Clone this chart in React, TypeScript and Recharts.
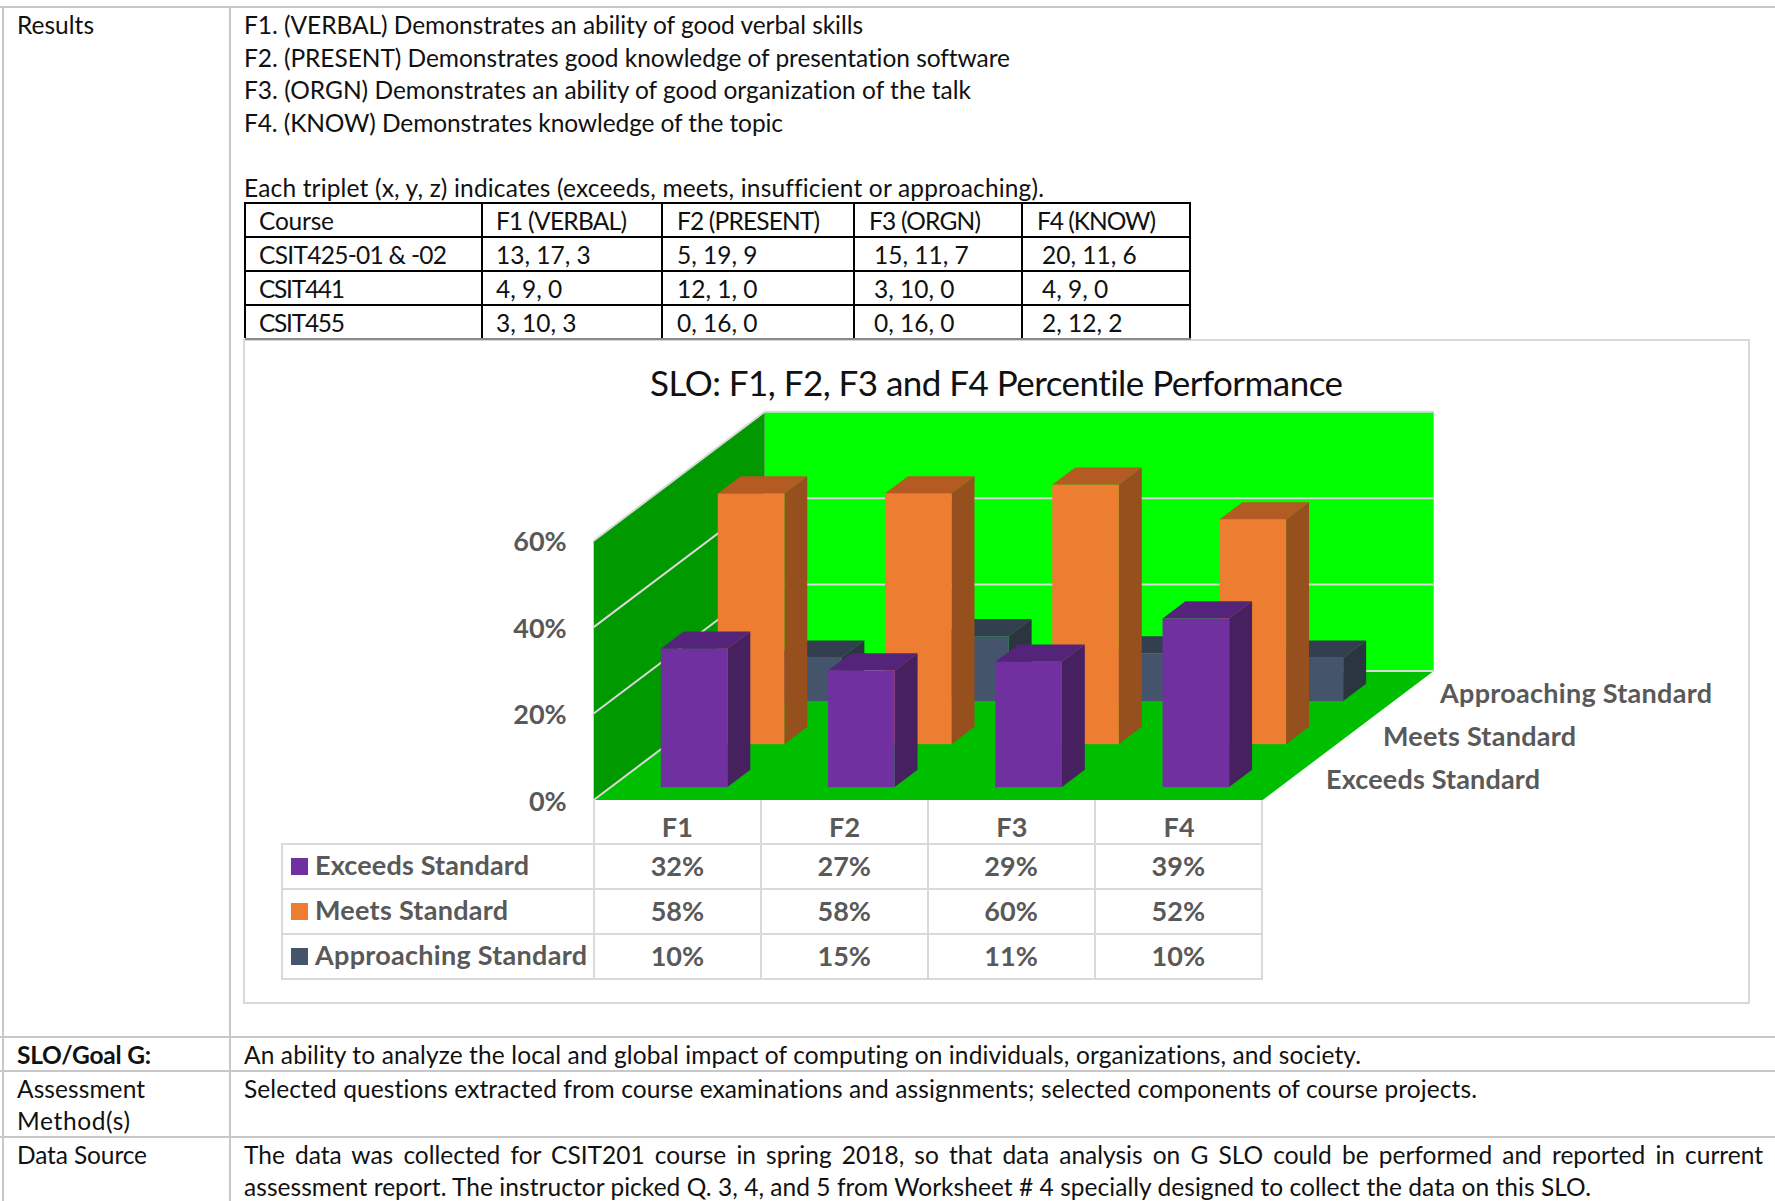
import React from "react";
import { BarChart, Bar, XAxis, YAxis, CartesianGrid } from "recharts";

const categories = ["F1", "F2", "F3", "F4"];
const exceeds = [32, 27, 29, 39];
const meets = [58, 58, 60, 52];
const approaching = [10, 15, 11, 10];
const yTicks = [0, 20, 40, 60];

const outcomeLines = [
  "F1. (VERBAL) Demonstrates an ability of good verbal skills",
  "F2. (PRESENT) Demonstrates good knowledge of presentation software",
  "F3. (ORGN) Demonstrates an ability of good organization of the talk",
  "F4. (KNOW) Demonstrates knowledge of the topic",
];
const outcomeWidths = [619, 766, 727, 539];
const courseHeader = ["Course", "F1 (VERBAL)", "F2 (PRESENT)", "F3 (ORGN)", "F4 (KNOW)"];
const courseHeaderWidths = [75, 131, 143, 112, 119];
const courseRows = [
  ["CSIT425-01 & -02", "13, 17, 3", "5, 19, 9", "15, 11, 7", "20, 11, 6"],
  ["CSIT441", "4, 9, 0", "12, 1, 0", "3, 10, 0", "4, 9, 0"],
  ["CSIT455", "3, 10, 3", "0, 16, 0", "0, 16, 0", "2, 12, 2"],
];
const courseNameWidths = [188, 86, 86];

const chartData = categories.map((name, i) => ({
  name,
  exceeds: exceeds[i],
  meets: meets[i],
  approaching: approaching[i],
}));

const series = [
  { key: "exceeds", label: "Exceeds Standard", values: exceeds, color: "#7030A0", top: "#54247A", side: "#47205F", depth: 0.1, labelX: 1326, labelY: 778, labelW: 214 },
  { key: "meets", label: "Meets Standard", values: meets, color: "#ED7D31", top: "#B35B22", side: "#95501D", depth: 0.433, labelX: 1383, labelY: 735, labelW: 193 },
  { key: "approaching", label: "Approaching Standard", values: approaching, color: "#44546A", top: "#333F4F", side: "#2A3541", depth: 0.767, labelX: 1440, labelY: 692, labelW: 272 },
];

// chart frame on the page and the front face of the plot box
const FRAME = { left: 244, top: 340, width: 1505, height: 663 };
const PLOT = { left: 593.7, right: 1262.7, top: 540.7, bottom: 800 };
const DEPTH_X = 171;
const DEPTH_Y = 129;
const BAR_DEPTH = 0.134;
const BAR_WIDTH = 66.6;
const GRID = "#D9D9D9";
const INK = "#595959";
const FONT = "Lato, sans-serif";

function Bar3D(props: any) {
  const { x, y, width, height, depth, color, top, side } = props;
  const fx = x + DEPTH_X * depth;
  const fy = y - DEPTH_Y * depth;
  const sx = DEPTH_X * BAR_DEPTH;
  const sy = DEPTH_Y * BAR_DEPTH;
  return (
    <g>
      <path d={`M${fx},${fy} l${sx},${-sy} h${width} l${-sx},${sy} z`} fill={top} />
      <path d={`M${fx + width},${fy} l${sx},${-sy} v${height} l${-sx},${sy} z`} fill={side} />
      <rect x={fx} y={fy} width={width} height={height} fill={color} />
    </g>
  );
}

// grid line wrapped around the left wall and the back wall
function WallLine(props: any) {
  const { x1, y1, x2 } = props;
  return (
    <path
      key={props.key}
      d={`M${x1},${y1} l${DEPTH_X},${-DEPTH_Y} L${x2 + DEPTH_X},${y1 - DEPTH_Y}`}
      fill="none"
      stroke={GRID}
      strokeWidth={2}
    />
  );
}

function Walls() {
  const { left, right, top, bottom } = PLOT;
  const l = left - FRAME.left;
  const r = right - FRAME.left;
  const t = top - FRAME.top;
  const b = bottom - FRAME.top;
  return (
    <svg width={FRAME.width} height={FRAME.height} style={{ position: "absolute", left: 0, top: 0 }}>
      <rect x={l + DEPTH_X} y={t - DEPTH_Y} width={r - l} height={b - t} fill="#00FF00" />
      <path d={`M${l},${t} L${l + DEPTH_X},${t - DEPTH_Y} V${b - DEPTH_Y} L${l},${b} z`} fill="#009900" />
      <path d={`M${l},${b} L${l + DEPTH_X},${b - DEPTH_Y} H${r + DEPTH_X} L${r},${b} z`} fill="#00BF00" />
    </svg>
  );
}

// single line of page text; w pins the run to a given width
function Txt({ x, y, size = 24.5, bold, color = "#111", w, children }: any) {
  return (
    <svg width={1} height={1} style={{ position: "absolute", left: x, top: y - 1, overflow: "visible" }}>
      <text
        x={0}
        y={0}
        dominantBaseline="central"
        textLength={w}
        lengthAdjust={w ? "spacing" : undefined}
        style={{ fontFamily: FONT, fontSize: size, fontWeight: bold ? 700 : 400, fill: color, fontVariantLigatures: "none", whiteSpace: "pre" }}
      >
        {children}
      </text>
    </svg>
  );
}

function Line({ x, y, w, h, color }: any) {
  return <div style={{ position: "absolute", left: x, top: y, width: w, height: h, background: color }} />;
}

const docLine = "#C8C8C8";
const courseX = [245, 482, 662, 854, 1022, 1190];
const courseY = [203, 237, 271, 305];
const courseTextX = [
  [259, 496, 677, 869, 1037],
  [259, 496, 677, 874, 1042],
  [259, 496, 677, 874, 1042],
  [259, 496, 677, 874, 1042],
];
const rowCentres = [221, 255, 289, 323];

function CourseTable() {
  const rows = [courseHeader, ...courseRows];
  return (
    <>
      {courseY.map((y) => (
        <Line key={y} x={245} y={y - 1} w={946} h={2} color="#000" />
      ))}
      {courseX.map((x) => (
        <Line key={x} x={x - 1} y={202} w={2} h={136} color="#000" />
      ))}
      {rows.map((row, r) =>
        row.map((cell, c) => {
          const w = r === 0 ? courseHeaderWidths[c] : c === 0 ? courseNameWidths[r - 1] : undefined;
          return (
            <Txt key={`${r}-${c}`} x={courseTextX[r][c]} y={rowCentres[r]} w={w}>
              {cell}
            </Txt>
          );
        }),
      )}
    </>
  );
}

const tableX = [593.8, 761, 927.5, 1094.7, 1262];
const tableY = [844, 889, 934, 979];

function DataTable() {
  return (
    <>
      {tableY.map((y) => (
        <Line key={y} x={281} y={y - 1} w={982} h={2} color={GRID} />
      ))}
      <Line x={281} y={844} w={2} h={135} color={GRID} />
      {tableX.map((x) => (
        <Line key={x} x={x - 1} y={800} w={2} h={179} color={GRID} />
      ))}
      {series.map((s, r) => (
        <React.Fragment key={s.key}>
          <Line x={291} y={tableY[r] + 14} w={17} h={17} color={s.color} />
          <Txt x={315} y={tableY[r] + 21} size={27} bold color={INK} w={s.labelW}>
            {s.label}
          </Txt>
          {s.values.map((v, c) => (
            <div
              key={c}
              style={{
                position: "absolute",
                left: tableX[c],
                width: tableX[c + 1] - tableX[c],
                top: tableY[r] + 21,
                transform: "translateY(-50%)",
                textAlign: "center",
                fontFamily: FONT,
                fontWeight: 700,
                fontSize: 27,
                color: INK,
                lineHeight: 1,
              }}
            >
              {v}%
            </div>
          ))}
        </React.Fragment>
      ))}
    </>
  );
}

function PerformanceChart() {
  const margin = {
    top: PLOT.top - FRAME.top,
    left: PLOT.left - FRAME.left - 80,
    right: FRAME.left + FRAME.width - PLOT.right,
    bottom: FRAME.top + FRAME.height - PLOT.bottom - 44,
  };
  const tick = { fontFamily: FONT, fontSize: 27, fontWeight: 700, fill: INK };
  // back row first so the front row paints over it
  const paintOrder = [...series].reverse();
  return (
    <div style={{ position: "absolute", left: FRAME.left, top: FRAME.top, width: FRAME.width, height: FRAME.height, background: "#fff", outline: `2px solid ${GRID}`, outlineOffset: -1 }}>
      <Walls />
      <div style={{ position: "absolute", left: 0, top: 0 }}>
        <BarChart width={FRAME.width} height={FRAME.height} data={chartData} margin={margin} barSize={BAR_WIDTH} barGap={-BAR_WIDTH}>
          <CartesianGrid vertical={false} horizontal={WallLine} />
          <XAxis dataKey="name" axisLine={false} tickLine={false} tickSize={0} tickMargin={18} height={44} tick={tick} interval={0} />
          <YAxis domain={[0, 60]} ticks={yTicks} width={80} axisLine={false} tickLine={false} tickSize={0} tickMargin={27} tick={{ ...tick, dy: 1 }} tickFormatter={(v) => `${v}%`} />
          {paintOrder.map((s) => (
            <Bar
              key={s.key}
              dataKey={s.key}
              isAnimationActive={false}
              shape={(p: any) => <Bar3D {...p} depth={s.depth} color={s.color} top={s.top} side={s.side} />}
            />
          ))}
        </BarChart>
      </div>
    </div>
  );
}

export default function App() {
  return (
    <div style={{ position: "absolute", left: 0, top: 0, width: 1775, height: 1201, overflow: "hidden", background: "#fff" }}>
      {/* outer document table */}
      <Line x={0} y={6} w={1775} h={2} color={docLine} />
      <Line x={2} y={6} w={2} h={1195} color={docLine} />
      <Line x={229} y={6} w={2} h={1195} color={docLine} />
      <Line x={0} y={1036} w={1775} h={2} color={docLine} />
      <Line x={0} y={1070} w={1775} h={2} color={docLine} />
      <Line x={0} y={1136} w={1775} h={2} color={docLine} />

      <Txt x={17} y={25} w={77}>Results</Txt>
      {outcomeLines.map((t, i) => (
        <Txt key={t} x={244} y={25 + i * 32.5} w={outcomeWidths[i]}>{t}</Txt>
      ))}
      <Txt x={244} y={188} w={800}>Each triplet (x, y, z) indicates (exceeds, meets, insufficient or approaching).</Txt>
      <CourseTable />

      <PerformanceChart />
      <Line x={245} y={338} w={946} h={2} color="#8A8A8A" />
      <Txt x={650} y={383} size={35} w={693}>SLO: F1, F2, F3 and F4 Percentile Performance</Txt>
      {series.map((s) => (
        <Txt key={s.key} x={s.labelX} y={s.labelY + 1} size={27} bold color={INK} w={s.labelW}>{s.label}</Txt>
      ))}
      <DataTable />

      <Txt x={17} y={1055} bold w={134}>SLO/Goal G:</Txt>
      <Txt x={244} y={1055} w={1117}>An ability to analyze the local and global impact of computing on individuals, organizations, and society.</Txt>
      <Txt x={17} y={1089} w={128}>Assessment</Txt>
      <Txt x={17} y={1121} w={113}>Method(s)</Txt>
      <Txt x={244} y={1089} w={1233}>Selected questions extracted from course examinations and assignments; selected components of course projects.</Txt>
      <Txt x={17} y={1155} w={130}>Data Source</Txt>
      <div style={{ position: "absolute", left: 244, top: 1155, width: 1519, transform: "translateY(-50%)", fontFamily: FONT, fontSize: 24.5, color: "#111", lineHeight: 1, textAlign: "justify", textAlignLast: "justify", whiteSpace: "normal", fontVariantLigatures: "none" }}>
        The data was collected for CSIT201 course in spring 2018, so that data analysis on G SLO could be performed and reported in current
      </div>
      <Txt x={244} y={1187} w={1347}>assessment report. The instructor picked Q. 3, 4, and 5 from Worksheet # 4 specially designed to collect the data on this SLO.</Txt>
    </div>
  );
}
